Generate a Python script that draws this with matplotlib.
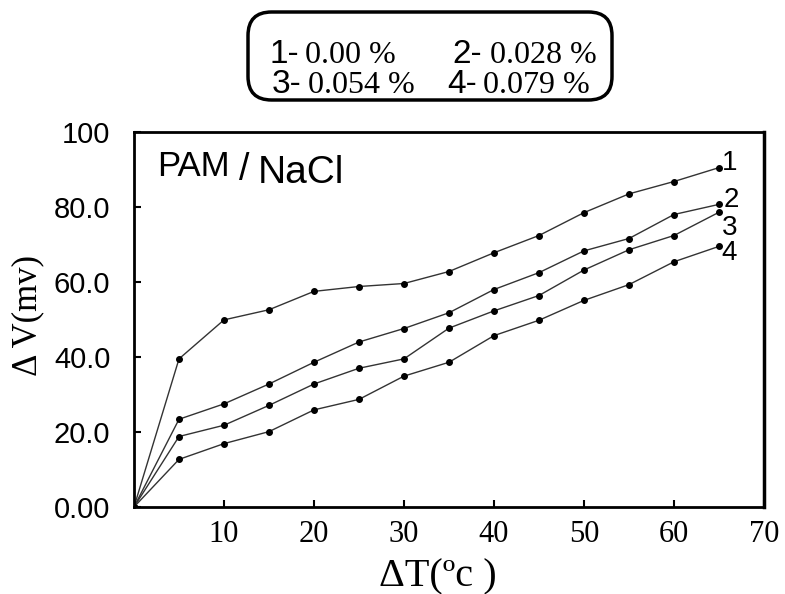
import matplotlib
matplotlib.use("Agg")
import matplotlib.pyplot as plt
from matplotlib.patches import FancyBboxPatch

# データ (ΔT に対する ΔV)
dT = [0, 5, 10, 15, 20, 25, 30, 35, 40, 45, 50, 55, 60, 65]
dV_1 = [0, 39.5, 49.9, 52.6, 57.5, 58.8, 59.6, 62.8, 67.8, 72.4, 78.5, 83.5, 86.8, 90.5]
dV_2 = [0, 23.4, 27.5, 32.8, 38.6, 44.0, 47.6, 51.8, 58.0, 62.5, 68.3, 71.6, 78.0, 80.7]
dV_3 = [0, 18.8, 21.8, 27.1, 32.8, 37.0, 39.5, 47.7, 52.3, 56.4, 63.2, 68.6, 72.4, 78.6]
dV_4 = [0, 12.7, 16.9, 20.1, 25.9, 28.7, 34.9, 38.6, 45.7, 49.8, 55.1, 59.3, 65.4, 69.5]
series = [dV_1, dV_2, dV_3, dV_4]
curve_names = ["1", "2", "3", "4"]
concentrations = ["0.00 %", "0.028 %", "0.054 %", "0.079 %"]

x_ticks = [10, 20, 30, 40, 50, 60, 70]
y_ticks = [0, 20, 40, 60, 80, 100]
y_tick_labels = ["0.00", "20.0", "40.0", "60.0", "80.0", "100"]

SANS = "Liberation Sans"
SERIF = "Liberation Serif"
W, H = 785, 594

fig = plt.figure(figsize=(W / 100, H / 100), dpi=100)
ax = fig.add_axes([134 / W, 1 - 507 / H, 630 / W, 375 / H])


def px(x, y):
    # ピクセル座標 -> figure 座標
    return x / W, 1 - y / H


# 曲線を描画
label_offsets = [(2, 3), (3, 3), (2, -11), (2, -5)]
for ys, name, off in zip(series, curve_names, label_offsets):
    ax.plot(dT, ys, color="#333333", lw=1.0, marker="o", ms=4,
            mfc="black", mec="black")
    ax.annotate(name, (dT[-1], ys[-1]), xytext=off, textcoords="offset points",
                ha="left", va="center", fontsize=20, family=SANS)

ax.set_xlim(0, 70)
ax.set_ylim(0, 100)
ax.set_xticks(x_ticks)
ax.set_xticklabels([str(t) for t in x_ticks], family=SERIF, fontsize=22)
ax.set_yticks(y_ticks)
ax.set_yticklabels(y_tick_labels, family=SANS, fontsize=21)
ax.tick_params(axis="both", direction="in", length=5, width=1.5)
ax.tick_params(axis="y", pad=17)
ax.tick_params(axis="x", pad=9)
for s in ax.spines.values():
    s.set_linewidth(2)
ax.spines["right"].set_linewidth(2.5)

# 軸ラベル
fig.text(*px(28, 316), "Δ V(mv)", rotation=90, ha="center", va="center",
         family=SERIF, fontsize=25)
fig.text(*px(438, 577), "ΔT(ºc )", ha="center", va="center",
         family=SERIF, fontsize=29)

# PAM / NaCl
fig.text(*px(157, 176), "PAM", ha="left", va="baseline", family=SANS, fontsize=25)
fig.text(*px(239, 180), "/", ha="left", va="baseline", family=SANS, fontsize=27)
fig.text(*px(258, 183), "NaCl", ha="left", va="baseline", family=SANS, fontsize=28)

# 凡例ボックス
box = FancyBboxPatch(px(248, 100), 364 / W, 88 / H,
                     boxstyle="round,pad=0,rounding_size=0.03",
                     transform=fig.transFigure, fill=False, lw=2.5,
                     edgecolor="black", mutation_aspect=W / H)
fig.patches.append(box)

legend_pos = [(270, 305, 63), (452, 490, 63), (272, 308, 93), (447, 483, 93)]
for name, conc, (xn, xc, yb) in zip(curve_names, concentrations, legend_pos):
    fig.text(*px(xn, yb), name + "-", ha="left", va="baseline",
             family=SANS, fontsize=24)
    fig.text(*px(xc, yb), conc, ha="left", va="baseline",
             family=SERIF, fontsize=23)

fig.savefig("out.png", dpi=100)
